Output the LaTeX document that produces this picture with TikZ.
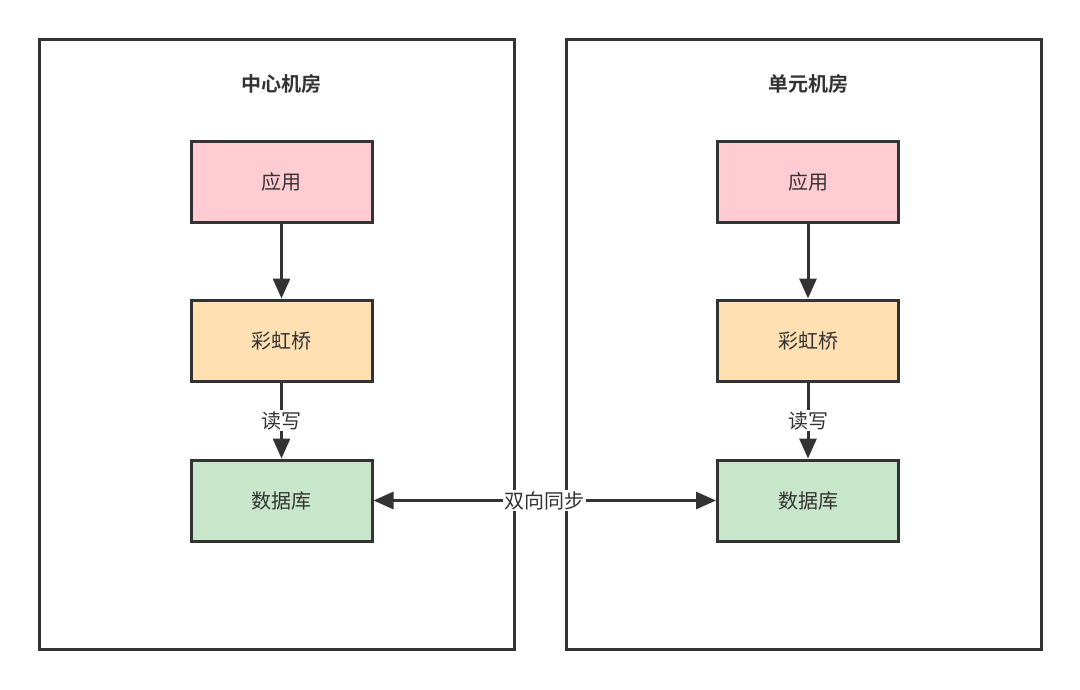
\documentclass[tikz,border=0pt]{standalone}
\usepackage{fontspec}
\newfontfamily\cjk{Noto Sans CJK SC}
\newfontfamily\cjkbold{Noto Sans CJK SC Bold}
\usetikzlibrary{arrows.meta}
\definecolor{stroke}{HTML}{333333}
\definecolor{pinkfill}{HTML}{FFCCD3}
\definecolor{orangefill}{HTML}{FFE0B2}
\definecolor{greenfill}{HTML}{C8E6C9}
\tikzset{
  room/.style={draw=stroke, line width=3pt, fill=white},
  blk/.style={draw=stroke, line width=3pt, minimum width=181pt, minimum height=81pt, inner sep=0pt, font=\cjk\fontsize{20pt}{24pt}\selectfont, text=stroke},
  ttl/.style={font=\cjkbold\fontsize{20pt}{24pt}\selectfont, text=stroke},
  lbl/.style={fill=white, inner sep=1.5pt, font=\cjk\fontsize{20pt}{24pt}\selectfont, text=stroke},
  conn/.style={draw=stroke, line width=3pt, -{Triangle[length=20pt,width=17pt]}},
  biconn/.style={draw=stroke, line width=3pt, {Triangle[length=20pt,width=17pt]}-{Triangle[length=20pt,width=17pt]}}
}
\begin{document}
\begin{tikzpicture}[x=1pt,y=-1pt]
\useasboundingbox (0,0) rectangle (1080,689);
\draw[room] (39,39) rectangle (514,649);
\draw[room] (566,39) rectangle (1041,649);
\node[ttl] (t1) at (281.5,84) {中心机房};
\node[ttl] (t2) at (808.5,84) {单元机房};
\node[blk, fill=pinkfill] (a1) at (281.5,181.5) {应用};
\node[blk, fill=orangefill] (b1) at (281.5,340.5) {彩虹桥};
\node[blk, fill=greenfill] (c1) at (281.5,500.5) {数据库};
\node[blk, fill=pinkfill] (a2) at (808,181.5) {应用};
\node[blk, fill=orangefill] (b2) at (808,340.5) {彩虹桥};
\node[blk, fill=greenfill] (c2) at (808,500.5) {数据库};
\draw[conn] (a1) -- (b1);
\draw[conn] (b1) -- node[lbl] {读写} (c1);
\draw[conn] (a2) -- (b2);
\draw[conn] (b2) -- node[lbl] {读写} (c2);
\draw[biconn] (c1) -- node[lbl, pos=0.5] {双向同步} (c2);
\end{tikzpicture}
\end{document}
